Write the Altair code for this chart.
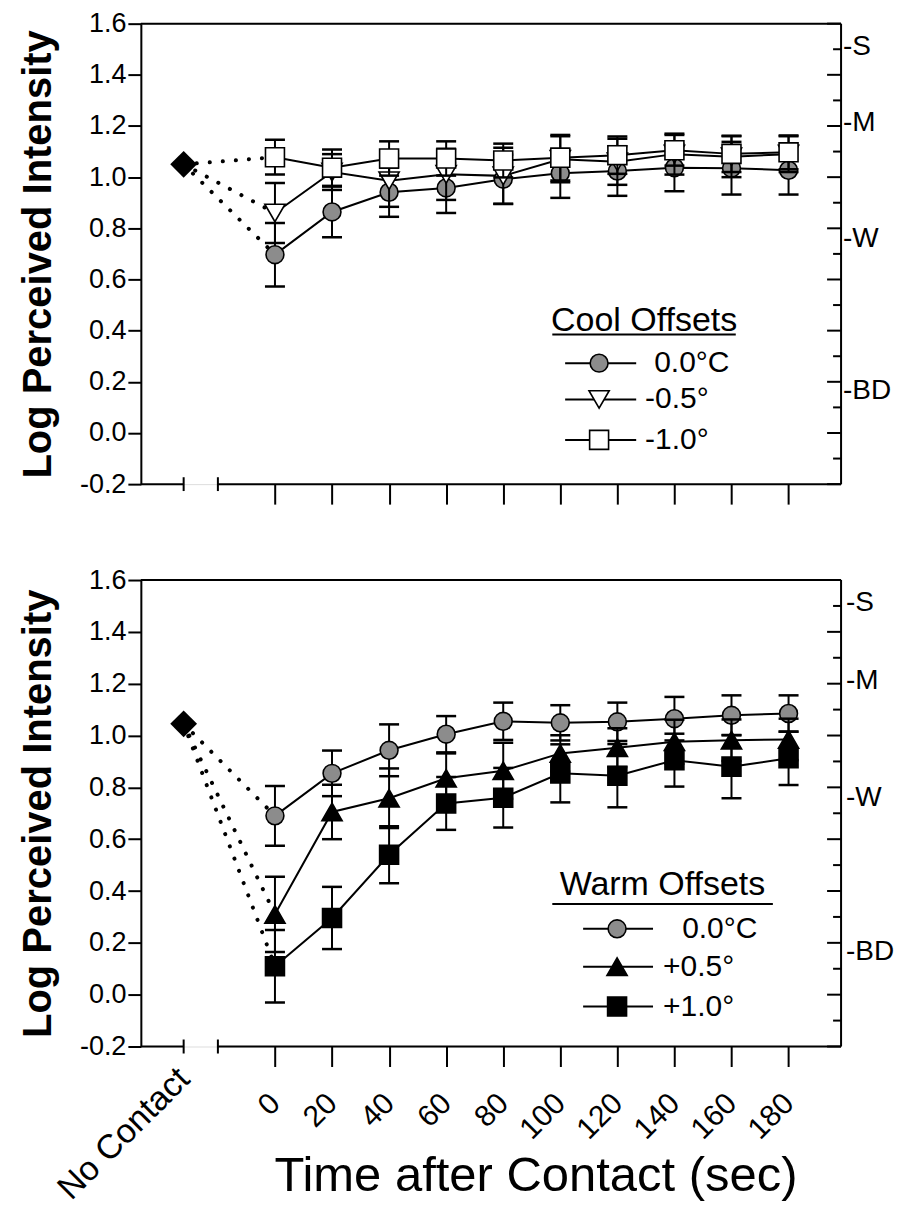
import altair as alt
import pandas as pd

FONT = "Liberation Sans"

# ---------------- data ----------------
TIMES = [0, 20, 40, 60, 80, 100, 120, 140, 160, 180]
NO_CONTACT_X = -32
NO_CONTACT_LABEL = "No Contact"

# Cool offsets (top panel)
COOL_TITLE = "Cool Offsets"
COOL_NAMES = ["0.0°C", "-0.5°", "-1.0°"]
COOL_BASELINE = 1.05
cool_00 = [0.697, 0.864, 0.941, 0.958, 0.992, 1.015, 1.024, 1.037, 1.035, 1.027]
cool_00_se = [0.124, 0.099, 0.096, 0.098, 0.096, 0.096, 0.097, 0.092, 0.103, 0.095]
cool_05 = [0.860, 1.020, 0.986, 1.011, 1.005, 1.070, 1.060, 1.090, 1.080, 1.090]
cool_05_se = [0.117, 0.070, 0.102, 0.100, 0.110, 0.090, 0.090, 0.080, 0.080, 0.070]
cool_10 = [1.078, 1.037, 1.073, 1.073, 1.065, 1.076, 1.086, 1.105, 1.091, 1.097]
cool_10_se = [0.068, 0.071, 0.067, 0.067, 0.066, 0.089, 0.073, 0.060, 0.071, 0.066]

# Warm offsets (bottom panel)
WARM_TITLE = "Warm Offsets"
WARM_NAMES = ["0.0°C", "+0.5°", "+1.0°"]
WARM_BASELINE = 1.045
warm_00 = [0.690, 0.854, 0.943, 1.005, 1.055, 1.049, 1.053, 1.065, 1.078, 1.085]
warm_00_se = [0.115, 0.088, 0.100, 0.070, 0.072, 0.068, 0.074, 0.084, 0.077, 0.070]
warm_05 = [0.310, 0.705, 0.758, 0.835, 0.864, 0.931, 0.953, 0.976, 0.982, 0.985]
warm_05_se = [0.145, 0.105, 0.115, 0.096, 0.108, 0.070, 0.075, 0.085, 0.080, 0.080]
warm_10 = [0.110, 0.296, 0.540, 0.738, 0.760, 0.854, 0.845, 0.905, 0.880, 0.912]
warm_10_se = [0.140, 0.120, 0.110, 0.102, 0.115, 0.112, 0.122, 0.102, 0.122, 0.103]

# axis ticks and labels
Y_TICKS = [-0.2, -0.1, 0.0, 0.1, 0.2, 0.3, 0.4, 0.5, 0.6, 0.7, 0.8, 0.9,
           1.0, 1.1, 1.2, 1.3, 1.4, 1.5, 1.6]
Y_MAJOR = [-0.2, 0.0, 0.2, 0.4, 0.6, 0.8, 1.0, 1.2, 1.4, 1.6]
Y_MINOR = [-0.1, 0.1, 0.3, 0.5, 0.7, 0.9, 1.1, 1.3, 1.5]
RIGHT_VALUES = [1.51, 1.21, 0.76, 0.165]
RIGHT_TEXT = ["-S", "-M", "-W", "-BD"]

# ---------------- layout (data units / pixels) ----------------
X_DOMAIN = [-47, 198.4]
Y_DOMAIN = [-0.2, 1.6]
BREAK_X = [-32, -20]
BAR_HALF = 0.027
W = 701
H_TOP = 461
H_BOT = 467

XS = alt.Scale(domain=X_DOMAIN, nice=False, zero=False)
YS = alt.Scale(domain=Y_DOMAIN, nice=False, zero=False)


def X(field, **kw):
    return alt.X(field, type="quantitative", scale=XS, **kw)


def Y(field, **kw):
    return alt.Y(field, type="quantitative", scale=YS, **kw)


def frame_df():
    x0, x1 = X_DOMAIN
    y0, y1 = Y_DOMAIN
    rows = [
        dict(x=x0, x2=x1, y=y1, y2=y1),
        dict(x=x1, x2=x1, y=y0, y2=y1),
        dict(x=x0, x2=BREAK_X[0], y=y0, y2=y0),
        dict(x=BREAK_X[1], x2=x1, y=y0, y2=y0),
        dict(x=BREAK_X[0], x2=BREAK_X[0], y=y0 - BAR_HALF, y2=y0 + BAR_HALF),
        dict(x=BREAK_X[1], x2=BREAK_X[1], y=y0 - BAR_HALF, y2=y0 + BAR_HALF),
    ]
    return pd.DataFrame(rows)


LABEL_EXPR = ("round(datum.value*10) % 2 == 0 ? (datum.value < 0 ? '-' + "
              "format(-datum.value, '.1f') : format(datum.value, '.1f')) : ''")


def panel(names, shapes, fills, means, ses, baseline, title, leg, bottom, height, right_dx):
    layers = []
    # frame + axes
    x_axis = alt.Axis(
        values=TIMES, domain=False, grid=False, tickSize=20, tickWidth=2,
        tickColor="black", labels=bottom, labelAngle=-45, labelAlign="right",
        labelBaseline="middle", labelPadding=32, labelFont=FONT, labelFontSize=30,
        labelColor="black", labelOverlap=False,
        title="Time after Contact (sec)" if bottom else None,
        titleFont=FONT, titleFontSize=49, titleFontWeight="normal", titleColor="black",
        titleX=395, titleY=144, titleAlign="center", titleBaseline="alphabetic",
    )
    y_axis = alt.Axis(
        values=Y_TICKS, labelExpr=LABEL_EXPR, domain=True, domainColor="black",
        domainWidth=2, grid=False, tickSize=13, tickWidth=2, tickColor="black",
        labelFont=FONT, labelFontSize=27, labelColor="black", labelPadding=2,
        labelOverlap=False, title="Log Perceived Intensity", titleFont=FONT,
        titleFontSize=40, titleFontWeight="bold", titleColor="black",
        titleAngle=270, titleX=-90, titleY=height / 2, titleAlign="center",
        titleBaseline="alphabetic",
    )
    layers.append(
        alt.Chart(frame_df()).mark_rule(color="black", strokeWidth=2).encode(
            x=X("x", axis=x_axis), x2="x2", y=Y("y", axis=y_axis), y2="y2"
        )
    )

    # inward ticks on the right side
    maj = pd.DataFrame(dict(x=X_DOMAIN[1], v=Y_MAJOR))
    mnr = pd.DataFrame(dict(x=X_DOMAIN[1], v=Y_MINOR))
    layers.append(alt.Chart(maj).mark_tick(orient="horizontal", size=14, thickness=2,
                                           color="black", opacity=1, xOffset=-7).encode(
        x=X("x"), y=Y("v")))
    layers.append(alt.Chart(mnr).mark_tick(orient="horizontal", size=8, thickness=2,
                                           color="black", opacity=1, xOffset=-4).encode(
        x=X("x"), y=Y("v")))
    rl = pd.DataFrame(dict(x=X_DOMAIN[1], v=RIGHT_VALUES, t=RIGHT_TEXT))
    layers.append(alt.Chart(rl).mark_text(align="left", baseline="middle", dx=right_dx,
                                          font=FONT, fontSize=28, color="black").encode(
        x=X("x"), y=Y("v"), text="t:N"))

    # data
    rows = []
    for k, (n, sh, fi, m, s) in enumerate(zip(names, shapes, fills, means, ses)):
        for t, v, e in zip(TIMES, m, s):
            rows.append(dict(series=n, k=k, shape=sh, fill=fi, t=t, v=v, lo=v - e, hi=v + e))
    df = pd.DataFrame(rows)

    dots = []
    for k, (n, m) in enumerate(zip(names, means)):
        dots.append(dict(series=n, t=NO_CONTACT_X, v=baseline))
        dots.append(dict(series=n, t=TIMES[0], v=m[0]))
    dots = pd.DataFrame(dots)
    layers.append(alt.Chart(dots).mark_line(color="black", strokeWidth=4, strokeCap="round",
                                            strokeDash=[0.1, 13]).encode(
        x=X("t"), y=Y("v"), detail="series:N"))

    layers.append(alt.Chart(df).mark_line(color="black", strokeWidth=2).encode(
        x=X("t"), y=Y("v"), detail="series:N"))

    for k, n in enumerate(names):
        sub = df[df.k == k]
        base = alt.Chart(sub)
        layers.append(base.mark_rule(color="black", strokeWidth=2).encode(
            x=X("t"), y=Y("lo"), y2="hi"))
        for f in ("lo", "hi"):
            layers.append(base.mark_tick(orient="horizontal", size=20, thickness=2.5,
                                         color="black", opacity=1).encode(
                x=X("t"), y=Y(f)))
        size = 320 if shapes[k] == "circle" else (360 if shapes[k] == "square" else 410)
        layers.append(base.mark_point(filled=True, stroke="black", strokeWidth=1.6,
                                      size=size, opacity=1).encode(
            x=X("t"), y=Y("v"),
            shape=alt.Shape("shape:N", scale=None),
            fill=alt.Fill("fill:N", scale=None)))

    dia = pd.DataFrame(dict(t=[NO_CONTACT_X], v=[baseline]))
    layers.append(alt.Chart(dia).mark_point(shape="diamond", filled=True, color="black",
                                            size=720, opacity=1).encode(
        x=X("t"), y=Y("v")))

    if bottom:
        nc = pd.DataFrame(dict(t=[NO_CONTACT_X], v=[Y_DOMAIN[0]], s=[NO_CONTACT_LABEL]))
        layers.append(alt.Chart(nc).mark_text(angle=315, align="right", baseline="middle",
                                              dx=-19, dy=20, font=FONT, fontSize=34,
                                              color="black").encode(
            x=X("t"), y=Y("v"), text="s:N"))

    # legend
    lrows = []
    for k, n in enumerate(names):
        lrows.append(dict(series=n, shape=shapes[k], fill=fills[k], y=leg["rows"][k],
                          x1=leg["line"][0], x2=leg["line"][1], xm=leg["mark"],
                          xl=leg["label_x"][k],
                          size=320 if shapes[k] == "circle" else (360 if shapes[k] == "square" else 410)))
    ldf = pd.DataFrame(lrows)
    layers.append(alt.Chart(ldf).mark_rule(color="black", strokeWidth=2).encode(
        x=X("x1"), x2="x2", y=Y("y")))
    layers.append(alt.Chart(ldf).mark_point(filled=True, stroke="black", strokeWidth=1.6,
                                            opacity=1).encode(
        x=X("xm"), y=Y("y"),
        shape=alt.Shape("shape:N", scale=None), fill=alt.Fill("fill:N", scale=None),
        size=alt.Size("size:Q", scale=None)))
    layers.append(alt.Chart(ldf).mark_text(align="left", baseline="middle", font=FONT,
                                           fontSize=30, color="black").encode(
        x=X("xl"), y=Y("y"), text="series:N"))
    tdf = pd.DataFrame(dict(x=[leg["title_x"]], y=[leg["title_y"]], s=[title],
                            u1=[leg["ul"][0]], u2=[leg["ul"][1]], uy=[leg["ul_y"]]))
    layers.append(alt.Chart(tdf).mark_text(align="center", baseline="middle", font=FONT,
                                           fontSize=34, color="black").encode(
        x=X("x"), y=Y("y"), text="s:N"))
    layers.append(alt.Chart(tdf).mark_rule(color="black", strokeWidth=2).encode(
        x=X("u1"), x2="u2", y=Y("uy")))

    return alt.layer(*layers).properties(width=W, height=height)


COOL_LEGEND = dict(rows=[0.273, 0.131, -0.027], line=[101.7, 126.6], mark=113.6,
                   label_x=[132.9, 129.7, 129.7], title_x=129.4, title_y=0.438,
                   ul=[97.2, 161.5], ul_y=0.385)
WARM_LEGEND = dict(rows=[0.254, 0.108, -0.046], line=[108.0, 132.5], mark=119.9,
                   label_x=[142.7, 136.0, 136.0], title_x=135.8, title_y=0.423,
                   ul=[97.2, 174.5], ul_y=0.35)

top = panel(COOL_NAMES, ["circle", "triangle-down", "square"],
            ["#8c8c8c", "white", "white"],
            [cool_00, cool_05, cool_10], [cool_00_se, cool_05_se, cool_10_se],
            COOL_BASELINE, COOL_TITLE, COOL_LEGEND, False, H_TOP, 2)
bot = panel(WARM_NAMES, ["circle", "triangle-up", "square"],
            ["#8c8c8c", "black", "black"],
            [warm_00, warm_05, warm_10], [warm_00_se, warm_05_se, warm_10_se],
            WARM_BASELINE, WARM_TITLE, WARM_LEGEND, True, H_BOT, 5)

chart = alt.vconcat(top, bot, spacing=96, bounds="flush").properties(
    padding={"left": 10, "top": 0, "right": 0, "bottom": 0}
).configure_view(stroke=None).configure(background="white")

chart.save("out.html", embed_options={"renderer": "svg", "actions": False})
